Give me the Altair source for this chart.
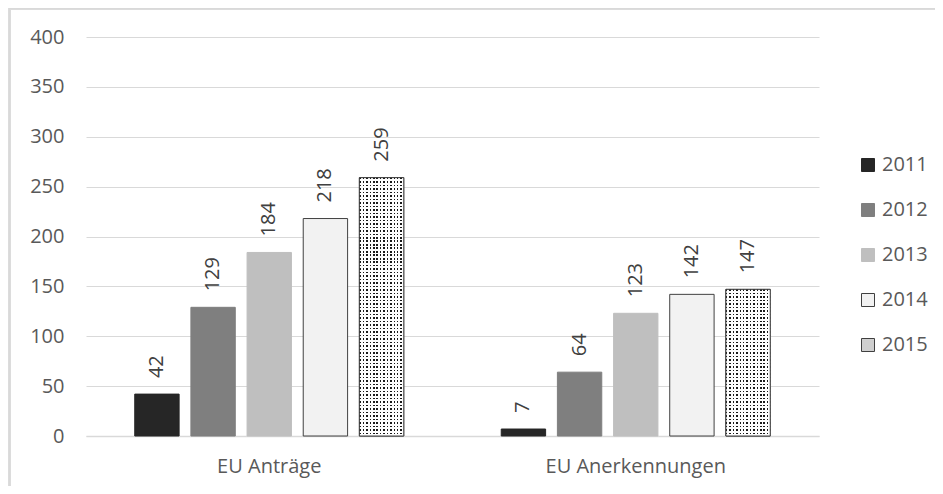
import altair as alt
import pandas as pd

# ---------------- data ----------------
categories = ["EU Anträge", "EU Anerkennungen"]
years = ["2011", "2012", "2013", "2014", "2015"]
antraege = [42, 129, 184, 218, 259]
anerkennungen = [7, 64, 123, 142, 147]

rows = []
for cat, vals in zip(categories, [antraege, anerkennungen]):
    for yr, v in zip(years, vals):
        rows.append({"cat": cat, "year": yr, "value": v})
df = pd.DataFrame(rows)

# ---------------- styles ----------------
fills = ["#262626", "#7f7f7f", "#bfbfbf", "#f2f2f2", "#cfcfcf"]
strokes = ["#262626", "#7f7f7f", "#bfbfbf", "#404040", "#404040"]
FONT = "Open Sans"
W, H = 733, 399
GRID = "#d9d9d9"
TXT = "#595959"

x_scale = alt.Scale(domain=categories, paddingInner=0.266, paddingOuter=0.133)
xo_scale = alt.Scale(domain=years, paddingInner=0.21, paddingOuter=0)
y_scale = alt.Scale(domain=[0, 400], nice=False)

x_enc = alt.X("cat:N", scale=x_scale, sort=categories,
              axis=alt.Axis(title=None, labelAngle=0, ticks=False, domainColor=GRID,
                            domainWidth=1.5, labelPadding=20, labelFontSize=20,
                            labelColor=TXT, labelFont=FONT, grid=False, labelLimit=0))
xo_enc = alt.XOffset("year:N", scale=xo_scale, sort=years)
y_enc = alt.Y("value:Q", scale=y_scale,
              axis=alt.Axis(title=None, values=list(range(0, 401, 50)), ticks=False,
                            domain=False, gridColor=GRID, gridWidth=1, labelPadding=22,
                            labelFontSize=20, labelColor=TXT, labelFont=FONT))

legend = alt.Legend(title=None, orient="none", legendX=772, legendY=118,
                    symbolType="square", symbolSize=169, symbolStrokeWidth=1,
                    labelFontSize=20, labelColor=TXT, labelFont=FONT, labelOffset=4,
                    rowPadding=25, padding=0, labelLimit=0)

base = alt.Chart(df).encode(x=x_enc, xOffset=xo_enc, y=y_enc)

bars = base.mark_bar(strokeWidth=1).encode(
    fill=alt.Fill("year:N", scale=alt.Scale(domain=years, range=fills), legend=legend),
    stroke=alt.Stroke("year:N", scale=alt.Scale(domain=years, range=strokes), legend=legend),
)


def stripe_stops(n, c_on, c_off, duty=0.5):
    stops = []
    for k in range(n):
        a = k / n
        b = (k + duty) / n
        c = (k + 1) / n
        stops += [alt.GradientStop(offset=a, color=c_on),
                  alt.GradientStop(offset=b, color=c_on),
                  alt.GradientStop(offset=b, color=c_off),
                  alt.GradientStop(offset=c, color=c_off)]
    return stops


last = years[-1]
PERIOD = 3.5
pattern_layers = []
vstripes = alt.LinearGradient(gradient="linear", x1=0, y1=0, x2=1, y2=0,
                              stops=stripe_stops(13, "#1a1a1a", "#ffffff", 0.45))
pattern_layers.append(
    base.transform_filter(alt.datum.year == last).mark_bar(fill=vstripes, strokeWidth=0)
)
for cat, vals in zip(categories, [antraege, anerkennungen]):
    h = vals[-1] * H / 400.0
    n = max(1, int(round(h / PERIOD)))
    hmask = alt.LinearGradient(gradient="linear", x1=0, y1=0, x2=0, y2=1,
                               stops=stripe_stops(n, "rgba(255,255,255,0)", "#ffffff", 0.45))
    pattern_layers.append(
        base.transform_filter((alt.datum.year == last) & (alt.datum.cat == cat))
        .mark_bar(fill=hmask, strokeWidth=0)
    )

outline = base.transform_filter(alt.datum.year == last).mark_bar(
    fillOpacity=0, stroke="#404040", strokeWidth=1)

labels = base.mark_text(angle=270, align="left", baseline="middle", dx=16,
                        fontSize=20, color="#404040", font=FONT).encode(
    text=alt.Text("value:Q"))

frame_top = alt.Chart(df).mark_rule(color=GRID, strokeWidth=1.5).encode(
    x=alt.value(-77), x2=alt.value(860), y=alt.value(-28.5))
frame_left = alt.Chart(df).mark_rule(color=GRID, strokeWidth=1.5).encode(
    x=alt.value(-76.5), y=alt.value(-29), y2=alt.value(470))

chart = alt.layer(bars, *pattern_layers, outline, labels, frame_top, frame_left).properties(
    width=W, height=H,
    autosize=alt.AutoSizeParams(type="none"),
    padding={"left": 78, "top": 29, "right": 116, "bottom": 50},
    background="white",
).configure(font=FONT).configure_view(stroke=None)

chart.save("out.html", embed_options={"renderer": "svg", "actions": False})
